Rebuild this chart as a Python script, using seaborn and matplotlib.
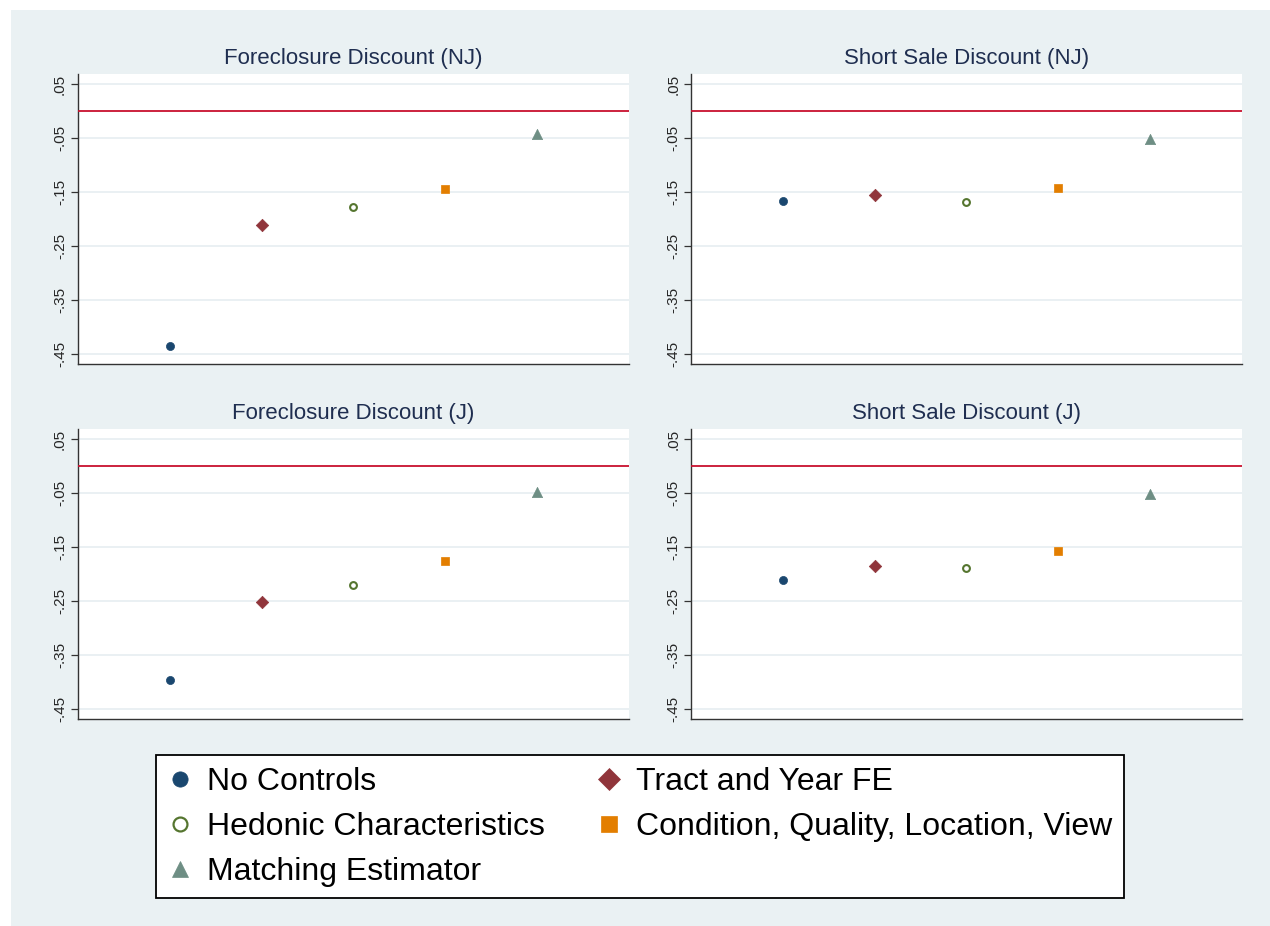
import matplotlib.pyplot as plt
import pandas as pd
import seaborn as sns
from matplotlib.lines import Line2D
from matplotlib.patches import Rectangle

# Datos
specs = [
    "No Controls",
    "Tract and Year FE",
    "Hedonic Characteristics",
    "Condition, Quality, Location, View",
    "Matching Estimator",
]
panels = [
    "Foreclosure Discount (NJ)",
    "Short Sale Discount (NJ)",
    "Foreclosure Discount (J)",
    "Short Sale Discount (J)",
]
fc_nj = [-0.435, -0.211, -0.177, -0.145, -0.042]
ss_nj = [-0.166, -0.155, -0.168, -0.143, -0.051]
fc_j = [-0.397, -0.251, -0.220, -0.176, -0.047]
ss_j = [-0.210, -0.185, -0.188, -0.157, -0.051]

y_ticks = [0.05, -0.05, -0.15, -0.25, -0.35, -0.45]
y_labels = [".05", "-.05", "-.15", "-.25", "-.35", "-.45"]

colors = ["#1A476F", "#90353B", "#55752F", "#E37E00", "#6E8E84"]
markers = ["o", "D", "o", "s", "^"]
sizes = [34, 40, 24, 40, 55]
hollow = [False, False, True, False, False]

bg = "#EAF1F3"
title_color = "#1F2E50"

sns.set_style("white")
plt.rcParams["font.family"] = ["Liberation Sans", "DejaVu Sans"]

df = pd.DataFrame(
    {
        "panel": [p for p in panels for _ in specs],
        "spec": specs * len(panels),
        "pos": list(range(1, len(specs) + 1)) * len(panels),
        "value": fc_nj + ss_nj + fc_j + ss_j,
    }
)

fig = plt.figure(figsize=(12.7, 9.26), dpi=100)
fig.patch.set_facecolor("white")
fig.add_artist(
    Rectangle((11 / 1270, 0), 1 - 11 / 1270, 1 - 10 / 926,
              transform=fig.transFigure, facecolor=bg, edgecolor="none", zorder=-1)
)

# posiciones de los paneles [left, bottom, width, height]
rects = [
    [0.0616, 0.607, 0.4333, 0.313],
    [0.5443, 0.607, 0.4334, 0.313],
    [0.0616, 0.2235, 0.4333, 0.313],
    [0.5443, 0.2235, 0.4334, 0.313],
]

for panel, rect in zip(panels, rects):
    ax = fig.add_axes(rect)
    ax.set_facecolor("white")
    sub = df[df["panel"] == panel]
    for i, spec in enumerate(specs):
        d = sub[sub["spec"] == spec]
        if hollow[i]:
            sns.scatterplot(data=d, x="pos", y="value", marker=markers[i], s=sizes[i],
                            facecolor="white", edgecolor=colors[i], linewidth=1.5,
                            ax=ax, zorder=4)
        else:
            sns.scatterplot(data=d, x="pos", y="value", marker=markers[i], s=sizes[i],
                            color=colors[i], edgecolor=colors[i], linewidth=0.5,
                            ax=ax, zorder=4)
    ax.axhline(0, color="#C8102E", linewidth=1.3, zorder=3)
    ax.set_xlim(0, 6)
    ax.set_ylim(-0.469, 0.069)
    ax.set_yticks(y_ticks)
    ax.set_yticklabels(y_labels, fontsize=11)
    plt.setp(ax.get_yticklabels(), rotation=90, va="center")
    ax.set_xticks([])
    ax.yaxis.grid(True, color="#E6EEF1", linewidth=1.2)
    ax.set_axisbelow(True)
    ax.tick_params(axis="y", direction="out", length=5, width=0.9, color="#333333",
                   left=True, pad=3)
    for side in ["top", "right"]:
        ax.spines[side].set_visible(False)
    for side in ["left", "bottom"]:
        ax.spines[side].set_color("#333333")
        ax.spines[side].set_linewidth(1.0)
    ax.set_xlabel("")
    ax.set_ylabel("")
    ax.set_title(panel, fontsize=16, color=title_color, pad=7)

# Leyenda (orden por columnas)
order = [0, 2, 4, 1, 3]
leg_sizes = [11, 11, 10, 12, 12]
handles = []
for i in order:
    handles.append(
        Line2D([], [], linestyle="none", marker=markers[i], markersize=leg_sizes[i],
               markerfacecolor="white" if hollow[i] else colors[i],
               markeredgecolor=colors[i], markeredgewidth=1.6 if hollow[i] else 0.5,
               label=specs[i])
    )
leg = fig.legend(handles=handles, ncol=2, loc="center", bbox_to_anchor=(0.504, 0.107),
                 fontsize=23, frameon=True, fancybox=False, framealpha=1,
                 handlelength=0.8, handletextpad=0.45, columnspacing=1.6,
                 labelspacing=0.47, borderpad=0.36)
leg.get_frame().set_edgecolor("black")
leg.get_frame().set_linewidth(1.3)
leg.get_frame().set_facecolor("white")
for t in leg.get_texts():
    t.set_color("black")

fig.savefig("out.png", dpi=100, facecolor=fig.get_facecolor())
